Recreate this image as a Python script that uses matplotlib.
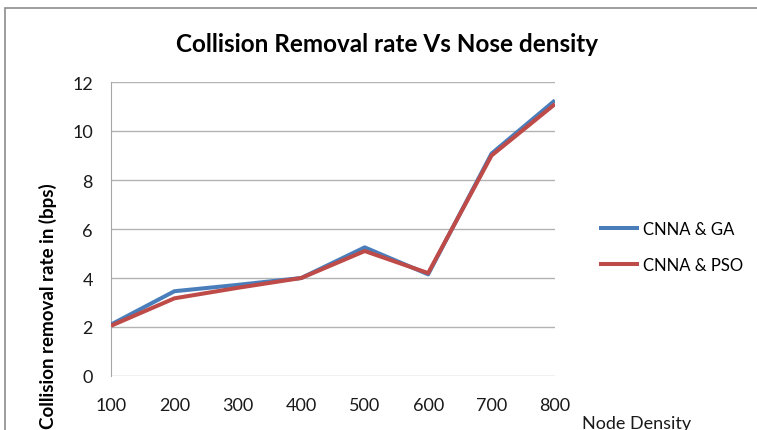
import matplotlib
matplotlib.use("Agg")
import matplotlib.pyplot as plt
from matplotlib.patches import Rectangle

# chart data
node_density = [100, 200, 300, 400, 500, 600, 700, 800]
cnna_ga = [2.1, 3.46, 3.72, 4.0, 5.25, 4.15, 9.08, 11.25]
cnna_pso = [2.05, 3.17, 3.6, 4.0, 5.1, 4.2, 9.0, 11.1]
y_ticks = [0, 2, 4, 6, 8, 10, 12]

plt.rcParams['font.family'] = ['Lato', 'DejaVu Sans']

W, H = 757, 431
fig = plt.figure(figsize=(W / 100, H / 100), dpi=100)

# chart frame (Excel style outline)
fig.patches.append(Rectangle((5 / W, -0.1), 1.2, 1 - 9 / H + 0.1,
                             transform=fig.transFigure, fill=False,
                             edgecolor='#8c8c8c', linewidth=1.2))

ax = fig.add_axes([111 / W, 1 - 377 / H, (555 - 111) / W, (377 - 83) / H])
ax.plot(node_density, cnna_ga, color='#4a7ebb', lw=2.9, label='CNNA & GA',
        solid_capstyle='butt', zorder=3)
ax.plot(node_density, cnna_pso, color='#be4b48', lw=2.9, label='CNNA & PSO',
        solid_capstyle='butt', zorder=4)

ax.set_xlim(100, 800)
ax.set_ylim(0, 12)
ax.set_yticks(y_ticks)
ax.set_xticks(node_density)
ax.grid(axis='y', color='#b3b3b3', lw=1)
ax.set_axisbelow(True)
for s in ['top', 'right', 'bottom']:
    ax.spines[s].set_visible(False)
ax.spines['left'].set_color('#a6a6a6')
ax.tick_params(length=0, labelsize=13, colors='#1a1a1a')
ax.tick_params(axis='y', pad=13)
ax.tick_params(axis='x', pad=15)

fig.text(387 / W, 1 - 45 / H, 'Collision Removal rate Vs Nose density',
         ha='center', va='center', fontsize=17.5, fontweight='bold')
fig.text(48 / W, 1 - 306 / H, 'Collision removal rate in (bps)',
         rotation=90, ha='center', va='center', fontsize=13.5, fontweight='bold')
fig.text(582 / W, 1 - 424 / H, 'Node Density', ha='left', va='center',
         fontsize=13, color='#1a1a1a')

leg = ax.legend(loc='center left', bbox_to_anchor=(1.1, 0.44), frameon=False,
                fontsize=12, handlelength=2.4, handletextpad=0.2,
                labelspacing=1.2, borderpad=0, borderaxespad=0)

fig.savefig('out.png', dpi=100)
